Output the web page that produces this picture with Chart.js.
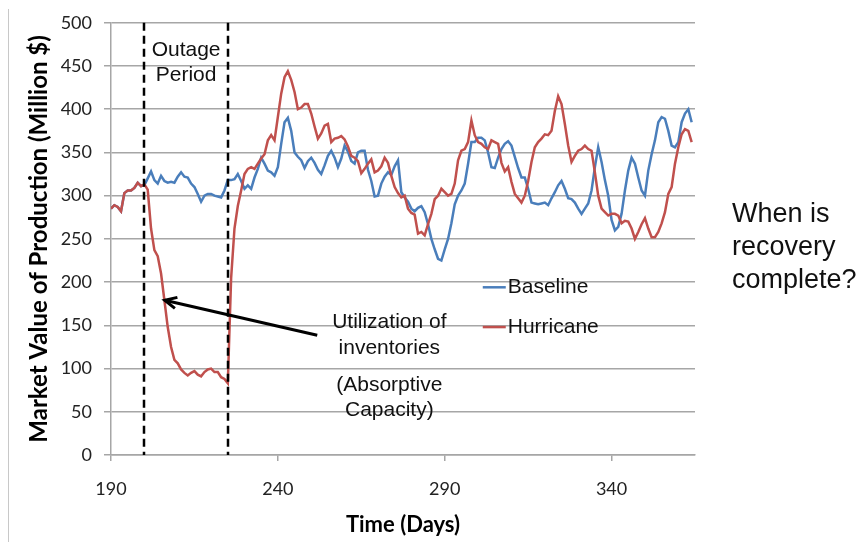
<!DOCTYPE html>
<html>
<head>
<meta charset="utf-8">
<script src="https://cdn.jsdelivr.net/npm/chart.js"></script>
<style>
html, body { margin: 0; padding: 0; background: #fff; }
#wrap { position: relative; width: 864px; height: 542px; }
#edge { position: absolute; left: 8px; top: 9px; bottom: 0; width: 1px; background: #c8c8c8; }
</style>
</head>
<body>
<div id="wrap">
  <canvas id="mchart" width="864" height="542"></canvas>
  <div id="edge"></div>
</div>
<script>
// days 190..364
const days = [
  190,191,192,193,194,195,196,197,198,199,
  200,201,202,203,204,205,206,207,208,209,
  210,211,212,213,214,215,216,217,218,219,
  220,221,222,223,224,225,226,227,228,229,
  230,231,232,233,234,235,236,237,238,239,
  240,241,242,243,244,245,246,247,248,249,
  250,251,252,253,254,255,256,257,258,259,
  260,261,262,263,264,265,266,267,268,269,
  270,271,272,273,274,275,276,277,278,279,
  280,281,282,283,284,285,286,287,288,289,
  290,291,292,293,294,295,296,297,298,299,
  300,301,302,303,304,305,306,307,308,309,
  310,311,312,313,314,315,316,317,318,319,
  320,321,322,323,324,325,326,327,328,329,
  330,331,332,333,334,335,336,337,338,339,
  340,341,342,343,344,345,346,347,348,349,
  350,351,352,353,354,355,356,357,358,359,
  360,361,362,363,364
];

const baseline = [
  285,289,287,282,303,306,306,309,315,311,
  312,320,328,318,314,323,317,315,316,315,
  322,327,322,321,314,310,302,293,300,302,
  302,300,299,298,306,318,318,319,325,317,
  308,312,308,321,331,344,337,329,327,323,
  333,360,385,390,375,350,345,341,332,340,
  344,338,330,325,335,346,352,344,333,343,
  358,351,340,337,350,352,352,330,317,299,
  300,314,322,327,324,334,341,304,298,293,
  285,282,286,288,281,267,250,238,227,225,
  238,250,268,290,300,306,314,337,362,362,
  367,367,364,350,333,332,344,354,360,363,
  358,345,332,321,321,308,292,291,290,291,
  292,289,297,304,312,317,308,297,296,292,
  285,279,285,291,306,333,356,339,318,300,
  272,260,264,279,306,329,344,337,321,306,
  300,329,348,364,385,391,389,375,358,356,
  362,385,395,400,385
];

const hurricane = [
  285,289,287,282,303,306,306,309,315,311,
  313,307,262,237,230,210,179,148,125,110,
  106,99,95,92,95,97,93,91,96,99,
  100,96,96,90,88,83,205,262,288,306,
  325,331,333,331,337,343,348,364,370,364,
  391,418,437,444,434,420,400,402,406,406,
  395,380,366,372,381,383,362,366,367,369,
  365,357,346,344,340,326,331,337,342,327,
  329,334,344,338,323,310,303,298,300,285,
  280,278,256,258,254,267,279,296,300,308,
  304,300,302,314,341,352,354,362,387,370,
  362,360,356,354,364,362,360,338,328,333,
  316,302,297,292,300,317,339,356,362,366,
  371,370,375,398,415,406,383,358,339,346,
  352,354,358,354,352,327,300,285,281,277,
  279,279,277,268,271,270,262,250,258,267,
  274,262,252,252,258,268,281,302,310,337,
  356,371,377,375,362
];

const xTicks = [190, 240, 290, 340];
const outageDays = [200, 225];

const blue = '#4a7ebb';
const red = '#c0504d';
const gridGray = '#a6a6a6';

// custom drawing: outage lines, notes, arrow, legend
var notes = {
  id: 'notes',
  afterDatasetsDraw: function(chart) {
    var c = chart.ctx, xs = chart.scales.x, ys = chart.scales.y;
    c.save();

    // outage period dashed lines
    c.strokeStyle = '#000';
    c.lineWidth = 2.5;
    c.setLineDash([8, 5]);
    outageDays.forEach(function(d) {
      var px = Math.round(xs.getPixelForValue(d));
      c.beginPath();
      c.moveTo(px, ys.getPixelForValue(500));
      c.lineTo(px, ys.getPixelForValue(0));
      c.stroke();
    });
    c.setLineDash([]);

    c.fillStyle = '#111';
    c.font = '21px "Liberation Sans", Arial, sans-serif';
    c.textAlign = 'center';
    c.textBaseline = 'middle';
    var mid = xs.getPixelForValue((outageDays[0] + outageDays[1]) / 2);
    c.fillText('Outage', mid, ys.getPixelForValue(468));
    c.fillText('Period', mid, ys.getPixelForValue(439));

    // utilization text
    var ux = xs.getPixelForValue(273.4);
    c.fillText('Utilization of', ux, ys.getPixelForValue(154));
    c.fillText('inventories', ux, ys.getPixelForValue(124));
    c.fillText('(Absorptive', ux, ys.getPixelForValue(81));
    c.fillText('Capacity)', ux, ys.getPixelForValue(52));

    // arrow
    var tx = xs.getPixelForValue(206.1), ty = ys.getPixelForValue(179);
    var fx = xs.getPixelForValue(251.8), fy = ys.getPixelForValue(138.6);
    c.strokeStyle = '#000';
    c.lineWidth = 3;
    c.beginPath();
    c.moveTo(fx, fy);
    c.lineTo(tx, ty);
    c.stroke();
    var ang = Math.atan2(ty - fy, tx - fx);
    c.beginPath();
    c.moveTo(tx - 13 * Math.cos(ang - 0.45), ty - 13 * Math.sin(ang - 0.45));
    c.lineTo(tx, ty);
    c.lineTo(tx - 13 * Math.cos(ang + 0.45), ty - 13 * Math.sin(ang + 0.45));
    c.stroke();

    // legend
    var lx = xs.getPixelForValue(301.4);
    var items = [[chart.data.datasets[0], 194], [chart.data.datasets[1], 148]];
    c.textAlign = 'left';
    items.forEach(function(it) {
      var ly = ys.getPixelForValue(it[1]);
      c.strokeStyle = it[0].borderColor;
      c.lineWidth = 2.5;
      c.beginPath();
      c.moveTo(lx, ly);
      c.lineTo(lx + 23, ly);
      c.stroke();
      c.fillText(it[0].label, lx + 25, ly);
    });

    // question on the right
    c.font = '27px "Liberation Sans", Arial, sans-serif';
    c.textBaseline = 'alphabetic';
    c.fillText('When is', 732, 222);
    c.fillText('recovery', 732, 255);
    c.fillText('complete?', 732, 288);
    c.restore();
  }
};

var ctx = document.getElementById('mchart').getContext('2d');

var data = {
  labels: days,
  datasets: [
    {
      label: 'Baseline',
      data: days.map(function(d, i) { return {x: d, y: baseline[i]}; }),
      borderColor: blue,
      borderWidth: 2.5,
      pointRadius: 0,
      fill: false,
      order: 1
    },
    {
      label: 'Hurricane',
      data: days.map(function(d, i) { return {x: d, y: hurricane[i]}; }),
      borderColor: red,
      borderWidth: 2.5,
      pointRadius: 0,
      fill: false,
      order: 0
    }
  ]
};

var options = {
  responsive: false,
  animation: false,
  events: [],
  layout: { padding: { left: 0, top: 22, right: 169, bottom: 0 } },
  plugins: { legend: { display: false }, tooltip: { enabled: false } },
  scales: {
    x: {
      type: 'linear',
      min: 190,
      max: 365,
      afterFit: function(s) { s.height = 87; },
      afterBuildTicks: function(s) { s.ticks = xTicks.map(function(v) { return {value: v}; }); },
      grid: { display: true, drawOnChartArea: false, drawTicks: true, tickLength: 6, color: gridGray, lineWidth: 1.5 },
      border: { display: true, color: gridGray, width: 1.5 },
      ticks: { color: '#222', font: { family: 'Lato', size: 18 }, padding: 17, maxRotation: 0 },
      title: { display: true, text: 'Time (Days)', color: '#000', font: { family: 'Lato', size: 22, weight: 'bold' }, padding: { top: 9 } }
    },
    y: {
      min: 0,
      max: 500,
      afterFit: function(s) { s.width = 111; },
      ticks: { stepSize: 50, color: '#222', font: { family: 'Lato', size: 18 }, padding: 12 },
      grid: { color: gridGray, lineWidth: 1.5, tickLength: 7 },
      border: { display: true, color: gridGray, width: 1.5 },
      title: { display: true, text: 'Market Value of Production (Million $)', color: '#000', font: { family: 'Lato', size: 24, weight: 'bold' }, padding: { top: 25 } }
    }
  }
};

var config = {
  type: 'line',
  data: data,
  options: options,
  plugins: [notes]
};
var mchart = new Chart(ctx, config);
</script>
</body>
</html>
